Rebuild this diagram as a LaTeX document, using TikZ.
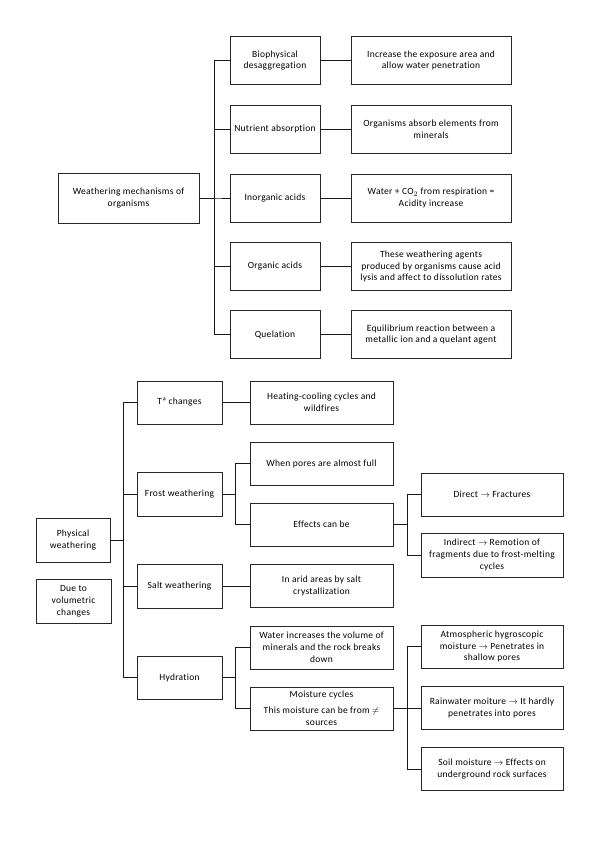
\documentclass[tikz,border=0pt]{standalone}
\usepackage{fontspec}
\setmainfont{Carlito}[LetterSpace=3,Ligatures=NoCommon]
\begin{document}
\begin{tikzpicture}[x=1pt,y=-1pt,
  box/.style={draw=black!85, line width=0.9pt, align=center, inner sep=1pt, text=black,
    font=\fontsize{9.5}{11.8}\selectfont},
  mainbox/.style={box, minimum width=141pt, minimum height=50pt},
  cb/.style={box, minimum width=90pt, minimum height=48pt},
  db/.style={box, minimum width=160pt, minimum height=48pt},
  lb/.style={box, minimum width=85pt, minimum height=43pt},
  rb/.style={box, minimum width=143pt, minimum height=43pt},
  fb/.style={box, minimum width=142pt, minimum height=43pt},
  pb/.style={box, minimum width=74pt, minimum height=44pt},
  conn/.style={line width=0.9pt, draw=black!90}]
\useasboundingbox (0,0) rectangle (599,848);

% ---------- top tree ----------
\node[mainbox] (main) at (128.5,198) {Weathering mechanisms of\\organisms};
\coordinate (t1) at (214,0);

\node[cb] (bio) at (275,60.5) {Biophysical\\desaggregation};
\node[cb] (nut) at (275,129) {Nutrient absorption};
\node[cb] (ino) at (275,198) {Inorganic acids};
\node[cb] (org) at (275,266.5) {Organic acids};
\node[cb] (que) at (275,334.5) {Quelation};

\node[db] (bioD) at (431,60.5) {Increase the exposure area and\\allow water penetration};
\node[db] (nutD) at (431,129) {Organisms absorb elements from\\minerals};
\node[db] (inoD) at (431,198) {Water + CO$_2$ from respiration =\\Acidity increase};
\node[db] (orgD) at (431,266.5) {These weathering agents\\produced by organisms cause acid\\lysis and affect to dissolution rates};
\node[db] (queD) at (431,334.5) {Equilibrium reaction between a\\metallic ion and a quelant agent};

\foreach \c in {bio,nut,ino,org,que}{
  \draw[conn] (main.east) -- (main.east -| t1) |- (\c.west);
  \draw[conn] (\c.east) -- (\c D.west);
}

% ---------- bottom tree ----------
\node[pb] (phys) at (73,540) {Physical\\weathering};
\node[box, minimum width=75pt, minimum height=44pt] (vol) at (73.5,601) {Due to\\volumetric\\changes};
\coordinate (t2) at (123,0);
\coordinate (t3) at (235,0);
\coordinate (t4) at (407,0);

\node[lb] (tch) at (179.5,402.5) {Tª changes};
\node[lb, minimum height=44pt] (fro) at (179.5,494) {Frost weathering};
\node[lb, minimum height=44pt] (sal) at (179.5,586) {Salt weathering};
\node[lb] (hyd) at (179.5,677.5) {Hydration};

\node[rb] (hea) at (321.5,402.5) {Heating-cooling cycles and\\wildfires};
\node[rb] (por) at (321.5,463.5) {When pores are almost full};
\node[rb] (eff) at (321.5,524.5) {Effects can be};
\node[rb] (ari) at (321.5,586) {In arid areas by salt\\crystallization};
\node[rb] (wat) at (321.5,647.5) {Water increases the volume of\\minerals and the rock breaks\\down};
\node[rb] (moi) at (321.5,708.5) {Moisture cycles\\[4pt]This moisture can be from $\neq$\\sources};

\node[fb] (dir) at (492,494.5) {Direct $\rightarrow$ Fractures};
\node[fb, minimum height=44pt] (ind) at (492,555) {Indirect $\rightarrow$ Remotion of\\fragments due to frost-melting\\cycles};
\node[fb] (atm) at (492,646.5) {Atmospheric hygroscopic\\moisture $\rightarrow$ Penetrates in\\shallow pores};
\node[fb] (rai) at (492,708) {Rainwater moiture $\rightarrow$ It hardly\\penetrates into pores};
\node[fb] (soi) at (492,769) {Soil moisture $\rightarrow$ Effects on\\underground rock surfaces};

\foreach \c in {tch,fro,sal,hyd}{
  \draw[conn] (phys.east) -- (phys.east -| t2) |- (\c.west);
}
\draw[conn] (tch.east) -- (hea.west);
\draw[conn] (sal.east) -- (ari.west);
\foreach \c in {por,eff}{
  \draw[conn] (fro.east) -- (fro.east -| t3) |- (\c.west);
}
\foreach \c in {wat,moi}{
  \draw[conn] (hyd.east) -- (hyd.east -| t3) |- (\c.west);
}
\foreach \c in {dir,ind}{
  \draw[conn] (eff.east) -- (eff.east -| t4) |- (\c.west);
}
\foreach \c in {atm,rai,soi}{
  \draw[conn] (moi.east) -- (moi.east -| t4) |- (\c.west);
}
\end{tikzpicture}
\end{document}
